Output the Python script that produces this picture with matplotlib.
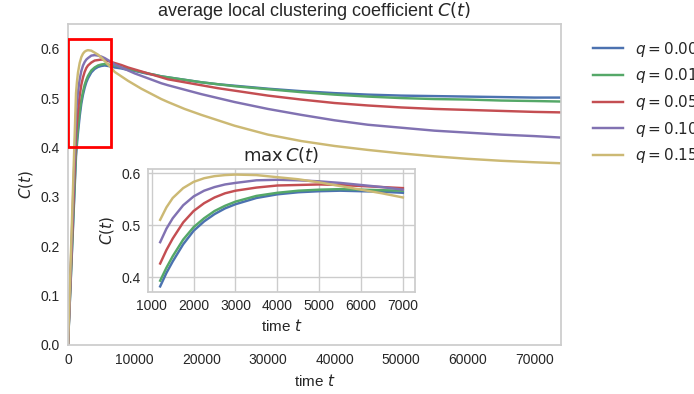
import matplotlib
matplotlib.use("Agg")
import matplotlib.pyplot as plt
from matplotlib.patches import Rectangle

# q values and colours (old seaborn "deep" palette)
q_labels = ["0.00", "0.01", "0.05", "0.10", "0.15"]
colors = ["#4C72B0", "#55A868", "#C44E52", "#8172B2", "#CCB974"]

# early phase (also shown in the inset)
t_early = [1200, 1350, 1500, 1750, 2000, 2250, 2500, 2750, 3000, 3500, 4000, 4500,
           5000, 5500, 6000, 6500, 7000]
C_early = [
    [0.382, 0.408, 0.430, 0.463, 0.489, 0.507, 0.521, 0.532, 0.540, 0.552, 0.559, 0.563,
     0.565, 0.566, 0.565, 0.564, 0.562],
    [0.393, 0.418, 0.440, 0.472, 0.496, 0.513, 0.527, 0.537, 0.545, 0.556, 0.562, 0.566,
     0.568, 0.569, 0.568, 0.567, 0.566],
    [0.426, 0.452, 0.474, 0.505, 0.527, 0.542, 0.553, 0.561, 0.566, 0.572, 0.576, 0.577,
     0.578, 0.577, 0.575, 0.573, 0.571],
    [0.467, 0.493, 0.513, 0.538, 0.555, 0.566, 0.573, 0.578, 0.581, 0.586, 0.587, 0.586,
     0.584, 0.581, 0.577, 0.573, 0.568],
    [0.510, 0.534, 0.552, 0.571, 0.583, 0.590, 0.594, 0.596, 0.597, 0.596, 0.592, 0.588,
     0.582, 0.575, 0.568, 0.561, 0.553],
]

# late phase
t_late = [8000, 9000, 10000, 11000, 12000, 13000, 14000, 15000, 17500, 20000, 22500,
          25000, 27500, 30000, 35000, 40000, 45000, 50000, 55000, 60000, 65000, 70000, 74000]
C_late = [
    [0.560, 0.557, 0.555, 0.552, 0.549, 0.547, 0.544, 0.542, 0.537, 0.532, 0.528,
     0.525, 0.522, 0.519, 0.514, 0.510, 0.507, 0.505, 0.504, 0.503, 0.502, 0.501, 0.501],
    [0.562, 0.559, 0.556, 0.553, 0.550, 0.547, 0.544, 0.542, 0.537, 0.532, 0.528,
     0.524, 0.521, 0.518, 0.512, 0.507, 0.503, 0.500, 0.498, 0.497, 0.495, 0.494, 0.493],
    [0.567, 0.562, 0.558, 0.554, 0.550, 0.546, 0.542, 0.538, 0.532, 0.526, 0.520,
     0.515, 0.510, 0.505, 0.497, 0.490, 0.485, 0.481, 0.478, 0.476, 0.474, 0.472, 0.471],
    [0.562, 0.556, 0.550, 0.545, 0.540, 0.535, 0.530, 0.526, 0.517, 0.508, 0.500,
     0.492, 0.485, 0.478, 0.466, 0.455, 0.446, 0.440, 0.434, 0.430, 0.426, 0.423, 0.420],
    [0.544, 0.535, 0.527, 0.519, 0.512, 0.505, 0.498, 0.492, 0.478, 0.466, 0.455,
     0.444, 0.435, 0.426, 0.413, 0.403, 0.395, 0.388, 0.382, 0.377, 0.373, 0.370, 0.368],
]

t_start = [0]
C_start = [0.0]

plt.rcParams['font.family'] = ['Liberation Sans', 'DejaVu Sans']
plt.rcParams['mathtext.fontset'] = 'dejavusans'
plt.rcParams['text.color'] = '#262626'
plt.rcParams['axes.labelcolor'] = '#262626'
plt.rcParams['xtick.color'] = '#262626'
plt.rcParams['ytick.color'] = '#262626'

gray = '#cccccc'

fig = plt.figure(figsize=(6.94, 3.94), dpi=100)
ax = fig.add_axes([0.098, 0.1244, 0.7104, 0.8147])

for i in range(len(q_labels)):
    t_all = t_start + t_early + t_late
    C_all = C_start + C_early[i] + C_late[i]
    ax.plot(t_all, C_all, color=colors[i], lw=1.75, label=r"$q = %s$" % q_labels[i])

ax.add_patch(Rectangle((0, 0.4), 6500, 0.22, fill=False, edgecolor='red', lw=2, zorder=5))

ax.set_xlim(0, 74000)
ax.set_ylim(0, 0.65)
ax.set_yticks([0.0, 0.1, 0.2, 0.3, 0.4, 0.5, 0.6])
ax.set_xticks([0, 10000, 20000, 30000, 40000, 50000, 60000, 70000])
ax.tick_params(length=0, labelsize=10, pad=6)
for s in ax.spines.values():
    s.set_color(gray)
    s.set_linewidth(1.25)
ax.set_xlabel(r"time $t$", fontsize=11)
ax.set_ylabel(r"$C(t)$", fontsize=11)
ax.set_title(r"average local clustering coefficient $C(t)$", fontsize=13)

ax.legend(loc='upper left', bbox_to_anchor=(0.845, 0.915), bbox_transform=fig.transFigure,
          frameon=False, fontsize=11, handlelength=2.0, borderaxespad=0)

# inset
axi = fig.add_axes([0.2133, 0.2589, 0.3847, 0.3122])
for i in range(len(q_labels)):
    axi.plot(t_early, C_early[i], color=colors[i], lw=1.75)
axi.set_yticks([0.4, 0.5, 0.6])
axi.set_xticks([1000, 2000, 3000, 4000, 5000, 6000, 7000])
axi.grid(True, color=gray, lw=1)
axi.set_axisbelow(True)
axi.tick_params(length=0, labelsize=10, pad=5)
for s in axi.spines.values():
    s.set_color(gray)
    s.set_linewidth(1.25)
axi.set_xlabel(r"time $t$", fontsize=11)
axi.set_ylabel(r"$C(t)$", fontsize=11)
axi.set_title(r"$\max\, C(t)$", fontsize=13)

fig.savefig("out.png", dpi=100)
